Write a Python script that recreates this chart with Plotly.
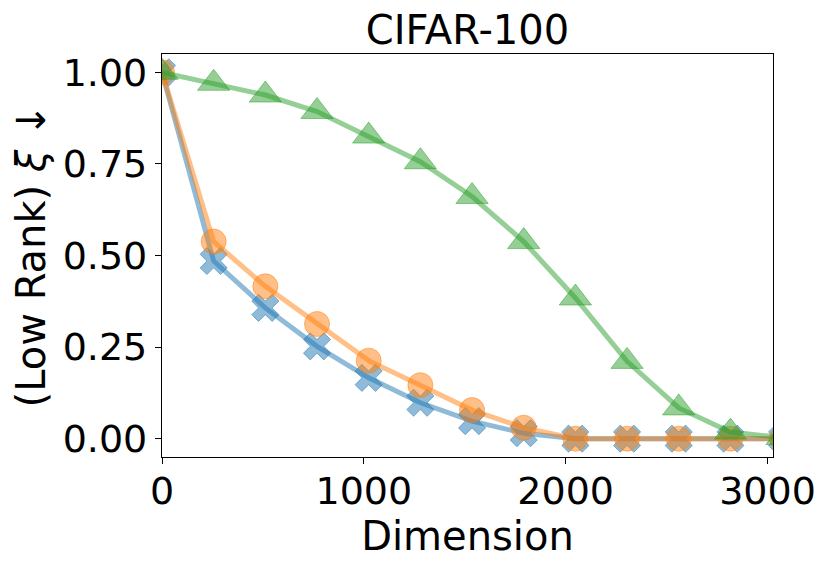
import plotly.graph_objects as go

dims = [0, 256, 512, 768, 1024, 1280, 1536, 1792, 2048, 2304, 2560, 2816, 3072]
blue_vals = [1.0, 0.485, 0.357, 0.252, 0.166, 0.098, 0.048, 0.015, 0.0, 0.0, 0.0, 0.0, 0.0]
orange_vals = [1.0, 0.538, 0.416, 0.313, 0.213, 0.146, 0.078, 0.03, 0.0, 0.0, 0.0, 0.0, 0.0]
green_vals = [1.0, 0.970, 0.938, 0.893, 0.826, 0.756, 0.661, 0.538, 0.384, 0.211, 0.084, 0.018, 0.003]

x_ticks = [0, 1000, 2000, 3000]
y_ticks = [0.0, 0.25, 0.5, 0.75, 1.0]
y_tick_text = ["0.00", "0.25", "0.50", "0.75", "1.00"]

FONT = "DejaVu Sans"
TICK_FS = 38
LABEL_FS = 40
OFF = 8  # browser body margin
W, H = 831 - OFF, 569 - OFF
fig = go.Figure()

series = [
    (blue_vals, "rgba(31,119,180,0.5)", "x", 24),
    (orange_vals, "rgba(255,127,14,0.5)", "circle", 25),
    (green_vals, "rgba(44,160,44,0.5)", "triangle-up", 28),
]
for vals, col, sym, sz in series:
    fig.add_trace(go.Scatter(
        x=dims, y=vals, mode="lines+markers", cliponaxis=True,
        line=dict(color=col, width=5),
        marker=dict(symbol=sym, size=sz, color=col, line=dict(color=col, width=1)),
        showlegend=False,
    ))

L, R, T, B = 162 - OFF, 773 - OFF, 54 - OFF, 457 - OFF
fig.update_layout(
    width=W, height=H,
    margin=dict(l=L, r=W - R, t=T, b=H - B),
    paper_bgcolor="white", plot_bgcolor="white",
    font=dict(family=FONT, size=TICK_FS, color="black"),
    title=dict(text="CIFAR-100", x=(L + R) / 2 / W, xanchor="center",
               y=1 - (30 - OFF) / H, yanchor="middle",
               font=dict(family=FONT, size=LABEL_FS, color="black")),
)
fig.update_xaxes(
    range=[0, 3027], tickvals=x_ticks, ticktext=[str(v) for v in x_ticks],
    showgrid=False, zeroline=False, automargin=False,
    showline=True, linecolor="black", linewidth=1.3, mirror=True,
    ticks="outside", ticklen=6, tickwidth=1.3, tickcolor="black",
    ticklabelstandoff=-6,
    tickfont=dict(family=FONT, size=TICK_FS),
    title=dict(text="Dimension", font=dict(family=FONT, size=LABEL_FS), standoff=0),
)
fig.update_yaxes(
    range=[-0.05, 1.05], tickvals=y_ticks, ticktext=y_tick_text,
    showgrid=False, zeroline=False, automargin=False,
    showline=True, linecolor="black", linewidth=1.3, mirror=True,
    ticks="outside", ticklen=6, tickwidth=1.3, tickcolor="black",
    tickfont=dict(family=FONT, size=TICK_FS),
    title=dict(text="(Low Rank) <i>ξ</i> ↓", font=dict(family=FONT, size=LABEL_FS), standoff=10),
)
fig.write_html("out.html")
